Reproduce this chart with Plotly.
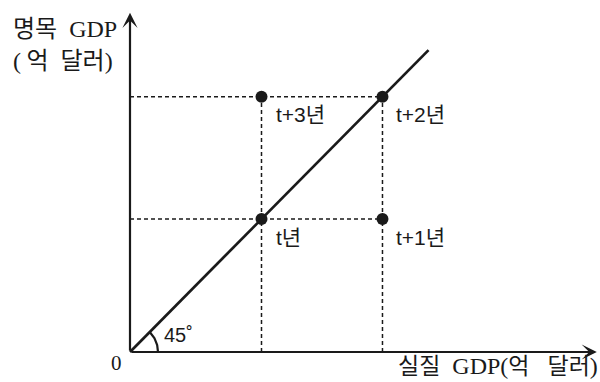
import numpy as np
import plotly.graph_objects as go

# 실질 GDP / 명목 GDP (t = 1 기준)
years = ["t년", "t+1년", "t+2년", "t+3년"]
real_gdp = [1.0, 1.92, 1.92, 1.0]
nominal_gdp = [1.0, 1.0, 1.92, 1.92]
line_end = 2.27          # 45도선 끝
x_axis_end = 3.55
y_axis_end = 2.55
angle_label = "45˚"

INK = "#1a1a1a"
SERIF_KR = "Liberation Serif, Noto Sans CJK KR"
SANS_KR = "Liberation Sans, Noto Sans CJK KR"
SP = "\u00a0"


def kr(s, size=24):
    # 한글은 고딕체로
    return f'<span style="font-family:Noto Sans CJK KR;font-size:{size}px">{s}</span>'


fig = go.Figure()

# dashed guide lines: one vertical per x, one horizontal per y
gx, gy = [], []
for x in sorted(set(real_gdp)):
    top = max(y for xx, y in zip(real_gdp, nominal_gdp) if xx == x)
    gx += [x, x, None]
    gy += [0, top, None]
for y in sorted(set(nominal_gdp)):
    right = max(x for x, yy in zip(real_gdp, nominal_gdp) if yy == y)
    gx += [0, right, None]
    gy += [y, y, None]
fig.add_trace(go.Scatter(x=gx, y=gy, mode="lines",
                         line=dict(color=INK, width=1.5, dash="4px,3px"),
                         hoverinfo="skip"))

# 45 degree line
fig.add_trace(go.Scatter(x=[0, line_end], y=[0, line_end], mode="lines",
                         line=dict(color=INK, width=2.7), hoverinfo="skip"))

# angle arc
theta = np.linspace(0, np.pi / 4, 30)
r = 0.213
fig.add_trace(go.Scatter(x=r * np.cos(theta), y=r * np.sin(theta) * 131.5 / 133,
                         mode="lines", line=dict(color=INK, width=2.2),
                         hoverinfo="skip"))

# points
fig.add_trace(go.Scatter(x=real_gdp, y=nominal_gdp, mode="markers",
                         marker=dict(color=INK, size=12), hoverinfo="skip"))

# axes with arrowheads
for tip, tail in [((x_axis_end, 0), (0, 0)), ((0, y_axis_end), (0, 0))]:
    fig.add_annotation(x=tip[0], y=tip[1], ax=tail[0], ay=tail[1],
                       xref="x", yref="y", axref="x", ayref="y",
                       showarrow=True, arrowhead=3, arrowsize=1.15,
                       arrowwidth=2.2, arrowcolor=INK, text="")

# point labels
for name, x, y in zip(years, real_gdp, nominal_gdp):
    fig.add_annotation(x=x, y=y, text=name, showarrow=False,
                       xanchor="left", yanchor="middle", xshift=12, yshift=-18,
                       font=dict(family=SANS_KR, size=21, color=INK))

fig.add_annotation(x=0, y=0, text="0", showarrow=False, xshift=-14, yshift=-11,
                   font=dict(family="Liberation Serif", size=21, color=INK))
fig.add_annotation(x=0, y=0, text=angle_label, showarrow=False, xanchor="left",
                   yanchor="middle", xshift=32, yshift=17,
                   font=dict(family=SANS_KR, size=20, color=INK))

# axis titles
fig.add_annotation(xref="paper", yref="paper", x=0.018, y=1 - 27 / 382,
                   text=kr("명목") + SP * 2 + "GDP", showarrow=False, xanchor="left",
                   yanchor="middle", font=dict(family=SERIF_KR, size=24, color=INK))
fig.add_annotation(xref="paper", yref="paper", x=0.018, y=1 - 58 / 382,
                   text="(" + kr(SP + "억") + SP * 2 + kr("달러") + ")", showarrow=False,
                   xanchor="left", yanchor="middle",
                   font=dict(family=SERIF_KR, size=24, color=INK))
fig.add_annotation(xref="paper", yref="paper", x=1, y=1 - 364 / 382,
                   text=(kr("실질", 23) + SP * 2 + "GDP(" + kr("억", 23) + SP * 3
                         + kr("달러", 23) + ")"),
                   showarrow=False, xanchor="right", yanchor="middle",
                   font=dict(family=SERIF_KR, size=24, color=INK))

fig.update_layout(
    width=600, height=382,
    margin=dict(l=0, r=0, t=0, b=0),
    paper_bgcolor="white", plot_bgcolor="white",
    showlegend=False,
    xaxis=dict(range=[-130 / 131.5, 470 / 131.5], visible=False, fixedrange=True),
    yaxis=dict(range=[-30 / 133, 352 / 133], visible=False, fixedrange=True),
)

fig.write_html("out.html", config={"displayModeBar": False},
               post_script="document.body.style.margin='0';")
